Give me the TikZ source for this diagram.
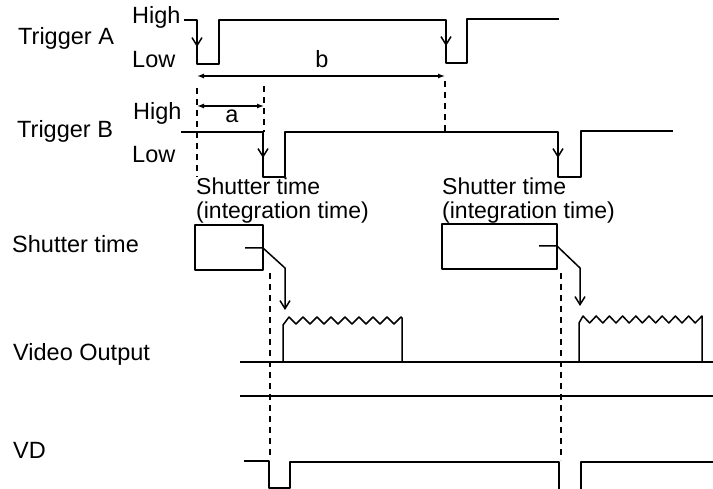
\documentclass[tikz,border=0pt]{standalone}
\usepackage{fontspec}
\setmainfont{Liberation Sans}
\usetikzlibrary{arrows.meta}
\begin{document}
\begin{tikzpicture}[x=1pt,y=-1pt,
  sig/.style={line width=1.5pt, line join=round},
  dimline/.style={line width=1.3pt, {Latex[length=7pt,width=5pt]}-{Latex[length=7pt,width=5pt]}},
  guide/.style={line width=1.1pt, dash pattern=on 6pt off 5pt},
  edgearr/.style={sig, -{Straight Barb[length=8pt,width=10pt]}},
  lbl/.style={inner sep=0pt, anchor=base west, font=\fontsize{23.5}{24}\selectfont},
  clbl/.style={lbl, anchor=base},
  twoline/.style={inner sep=0pt, anchor=north west, align=left, font=\fontsize{23}{23.5}\selectfont},
]
\useasboundingbox (0,0) rectangle (713,489);

% labels on the left
\node[lbl] (tA) at (18,45) {Trigger A};
\node[lbl] (tB) at (17,138) {Trigger B};
\node[lbl] (sh) at (12,253) {Shutter time};
\node[lbl] (vo) at (13,360) {Video Output};
\node[lbl] (vd) at (13,458) {VD};
\node[lbl] (hA) at (132,24) {High};
\node[lbl] (lA) at (132,68) {Low};
\node[lbl] (hB) at (133,120) {High};
\node[lbl] (lB) at (132,163) {Low};
\node[clbl] (lb) at (322,68) {b};
\node[clbl] (la) at (232,123) {a};
\node[twoline] (s1) at (196,178) {Shutter time\\(integration time)};
\node[twoline] (s2) at (442,178) {Shutter time\\(integration time)};

% Trigger A
\draw[sig] (184,20) -- (197,20) -- (197,64) -- (219,64) -- (219,20) -- (446,20)
  -- (446,63) -- (467,63) -- (467,19) -- (559,19);
\draw[edgearr] (197,30) -- (197,47);
\draw[edgearr] (446,30) -- (446,46);

% dimensions
\draw[dimline] (197,76) -- (445,76);
\draw[dimline] (197,106) -- (264,106);

% Trigger B
\draw[sig] (181,132) -- (263,132) -- (263,177) -- (285,177) -- (285,132) -- (558,132)
  -- (558,177) -- (581,177) -- (581,131) -- (673,131);
\draw[edgearr] (263,140) -- (263,158);
\draw[edgearr] (558,140) -- (558,158);

% guide lines
\draw[guide] (197,88) -- (197,177);
\draw[guide] (264,86) -- (264,132);
\draw[guide] (445,81) -- (445,131);
\draw[guide] (270,273) -- (270,458);
\draw[guide] (561,273) -- (561,460);

% shutter boxes
\draw[sig] (195,225) rectangle (263,270);
\draw[sig] (442,224) rectangle (557,269);
\draw[edgearr] (245,248) -- (263,248) -- (285,268) -- (285,310);
\draw[edgearr] (539,246) -- (557,246) -- (580,268) -- (580,306);

% video output
\draw[sig] (240,362) -- (713,362);
\draw[sig] (240,396) -- (713,396);
\draw[sig] (283,362) -- (283,325)
  \foreach \k in {0,...,7} { -- ({289+14*\k},317) -- ({296+14*\k},324) }
  -- (401,317) -- (402,318) -- (402,362);
\draw[sig] (579,362) -- (579,323)
  \foreach \k in {0,...,8} { -- ({583+13.2*\k},316) -- ({589.6+13.2*\k},323) }
  -- (702,316) -- (702,362);

% VD
\draw[sig] (244,461) -- (269,461) -- (269,488) -- (290,488) -- (290,462) -- (559,462) -- (559,490);
\draw[sig] (581,490) -- (581,462) -- (713,462);
\end{tikzpicture}
\end{document}
